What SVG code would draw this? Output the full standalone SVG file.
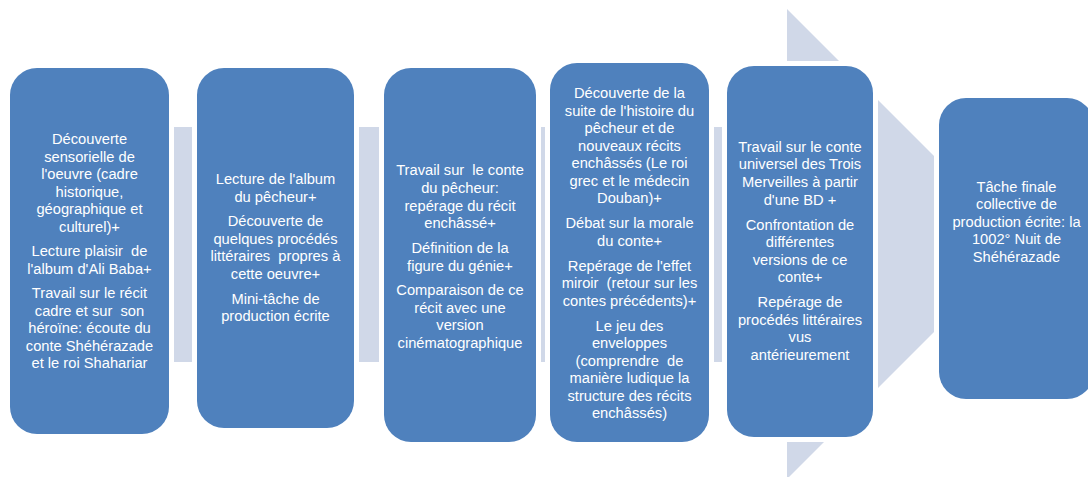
<svg xmlns="http://www.w3.org/2000/svg" width="1088" height="477" viewBox="0 0 1088 477">
<style>
.bg{fill:#D0D8E8}
.box{fill:#4F81BD;stroke:#FFFFFF;stroke-width:10;paint-order:stroke}
text{font-family:"Liberation Sans",Arial,sans-serif;font-size:14.7px;fill:#FFFFFF;text-anchor:middle}
</style>
<rect width="1088" height="477" fill="#FFFFFF"/>
<g id="connectors">
<polygon class="bg" points="12,127 787,127 787,9 1022,244 787,479 787,362 12,362"/>
</g>
<g id="node1">
<rect class="box" x="10" y="68" width="159" height="366" rx="27" ry="27"/>
<text xml:space="preserve" x="89.5" y="144">Découverte</text>
<text xml:space="preserve" x="89.5" y="161.5">sensorielle de</text>
<text xml:space="preserve" x="89.5" y="179">l'oeuvre (cadre</text>
<text xml:space="preserve" x="89.5" y="196.5">historique,</text>
<text xml:space="preserve" x="89.5" y="214">géographique et</text>
<text xml:space="preserve" x="89.5" y="231.5">culturel)+</text>
<text xml:space="preserve" x="89.5" y="256.1">Lecture plaisir  de</text>
<text xml:space="preserve" x="89.5" y="273.6">l'album d'Ali Baba+</text>
<text xml:space="preserve" x="89.5" y="298.2">Travail sur le récit</text>
<text xml:space="preserve" x="89.5" y="315.7">cadre et sur  son</text>
<text xml:space="preserve" x="89.5" y="333.2">héroïne: écoute du</text>
<text xml:space="preserve" x="89.5" y="350.7">conte Shéhérazade</text>
<text xml:space="preserve" x="89.5" y="368.2">et le roi Shahariar</text>
</g>
<g id="node2">
<rect class="box" x="197" y="68" width="157" height="360" rx="27" ry="27"/>
<text xml:space="preserve" x="275.5" y="184">Lecture de l'album</text>
<text xml:space="preserve" x="275.5" y="201.5">du pêcheur+</text>
<text xml:space="preserve" x="275.5" y="226.3">Découverte de</text>
<text xml:space="preserve" x="275.5" y="243.8">quelques procédés</text>
<text xml:space="preserve" x="275.5" y="261.3">littéraires  propres à</text>
<text xml:space="preserve" x="275.5" y="278.8">cette oeuvre+</text>
<text xml:space="preserve" x="275.5" y="303.6">Mini-tâche de</text>
<text xml:space="preserve" x="275.5" y="321.1">production écrite</text>
</g>
<g id="node3">
<rect class="box" x="384" y="68" width="152" height="374" rx="27" ry="27"/>
<text xml:space="preserve" x="460" y="175">Travail sur  le conte</text>
<text xml:space="preserve" x="460" y="192.7">du pêcheur:</text>
<text xml:space="preserve" x="460" y="210.5">repérage du récit</text>
<text xml:space="preserve" x="460" y="228.2">enchâssé+</text>
<text xml:space="preserve" x="460" y="253.2">Définition de la</text>
<text xml:space="preserve" x="460" y="270.7">figure du génie+</text>
<text xml:space="preserve" x="460" y="295.2">Comparaison de ce</text>
<text xml:space="preserve" x="460" y="312.8">récit avec une</text>
<text xml:space="preserve" x="460" y="330.3">version</text>
<text xml:space="preserve" x="460" y="347.8">cinématographique</text>
</g>
<g id="node4">
<rect class="box" x="550" y="63" width="159" height="379" rx="27" ry="27"/>
<text xml:space="preserve" x="629.5" y="98.3">Découverte de la</text>
<text xml:space="preserve" x="629.5" y="115.9">suite de l'histoire du</text>
<text xml:space="preserve" x="629.5" y="133.4">pêcheur et de</text>
<text xml:space="preserve" x="629.5" y="150.8">nouveaux récits</text>
<text xml:space="preserve" x="629.5" y="168.3">enchâssés (Le roi</text>
<text xml:space="preserve" x="629.5" y="185.7">grec et le médecin</text>
<text xml:space="preserve" x="629.5" y="203.2">Douban)+</text>
<text xml:space="preserve" x="629.5" y="228.3">Débat sur la morale</text>
<text xml:space="preserve" x="629.5" y="245.8">du conte+</text>
<text xml:space="preserve" x="629.5" y="270.7">Repérage de l'effet</text>
<text xml:space="preserve" x="629.5" y="288.2">miroir  (retour sur les</text>
<text xml:space="preserve" x="629.5" y="305.7">contes précédents)+</text>
<text xml:space="preserve" x="629.5" y="330.7">Le jeu des</text>
<text xml:space="preserve" x="629.5" y="348.2">enveloppes</text>
<text xml:space="preserve" x="629.5" y="365.8">(comprendre  de</text>
<text xml:space="preserve" x="629.5" y="383.3">manière ludique la</text>
<text xml:space="preserve" x="629.5" y="400.8">structure des récits</text>
<text xml:space="preserve" x="629.5" y="418.3">enchâssés)</text>
</g>
<g id="node5">
<rect class="box" x="727" y="66" width="146" height="371" rx="27" ry="27"/>
<text xml:space="preserve" x="800" y="151.7">Travail sur le conte</text>
<text xml:space="preserve" x="800" y="169.3">universel des Trois</text>
<text xml:space="preserve" x="800" y="187.1">Merveilles à partir</text>
<text xml:space="preserve" x="800" y="204.8">d'une BD +</text>
<text xml:space="preserve" x="800" y="229.8">Confrontation de</text>
<text xml:space="preserve" x="800" y="247.3">différentes</text>
<text xml:space="preserve" x="800" y="264.9">versions de ce</text>
<text xml:space="preserve" x="800" y="282.4">conte+</text>
<text xml:space="preserve" x="800" y="307.3">Repérage de</text>
<text xml:space="preserve" x="800" y="324.8">procédés littéraires</text>
<text xml:space="preserve" x="800" y="342.3">vus</text>
<text xml:space="preserve" x="800" y="359.9">antérieurement</text>
</g>
<g id="node6">
<rect class="box" x="939" y="98" width="155" height="301" rx="27" ry="27"/>
<text xml:space="preserve" x="1016.5" y="191.7">Tâche finale</text>
<text xml:space="preserve" x="1016.5" y="209.2">collective de</text>
<text xml:space="preserve" x="1016.5" y="226.8">production écrite: la</text>
<text xml:space="preserve" x="1016.5" y="244.3">1002° Nuit de</text>
<text xml:space="preserve" x="1016.5" y="261.8">Shéhérazade</text>
</g>
</svg>
